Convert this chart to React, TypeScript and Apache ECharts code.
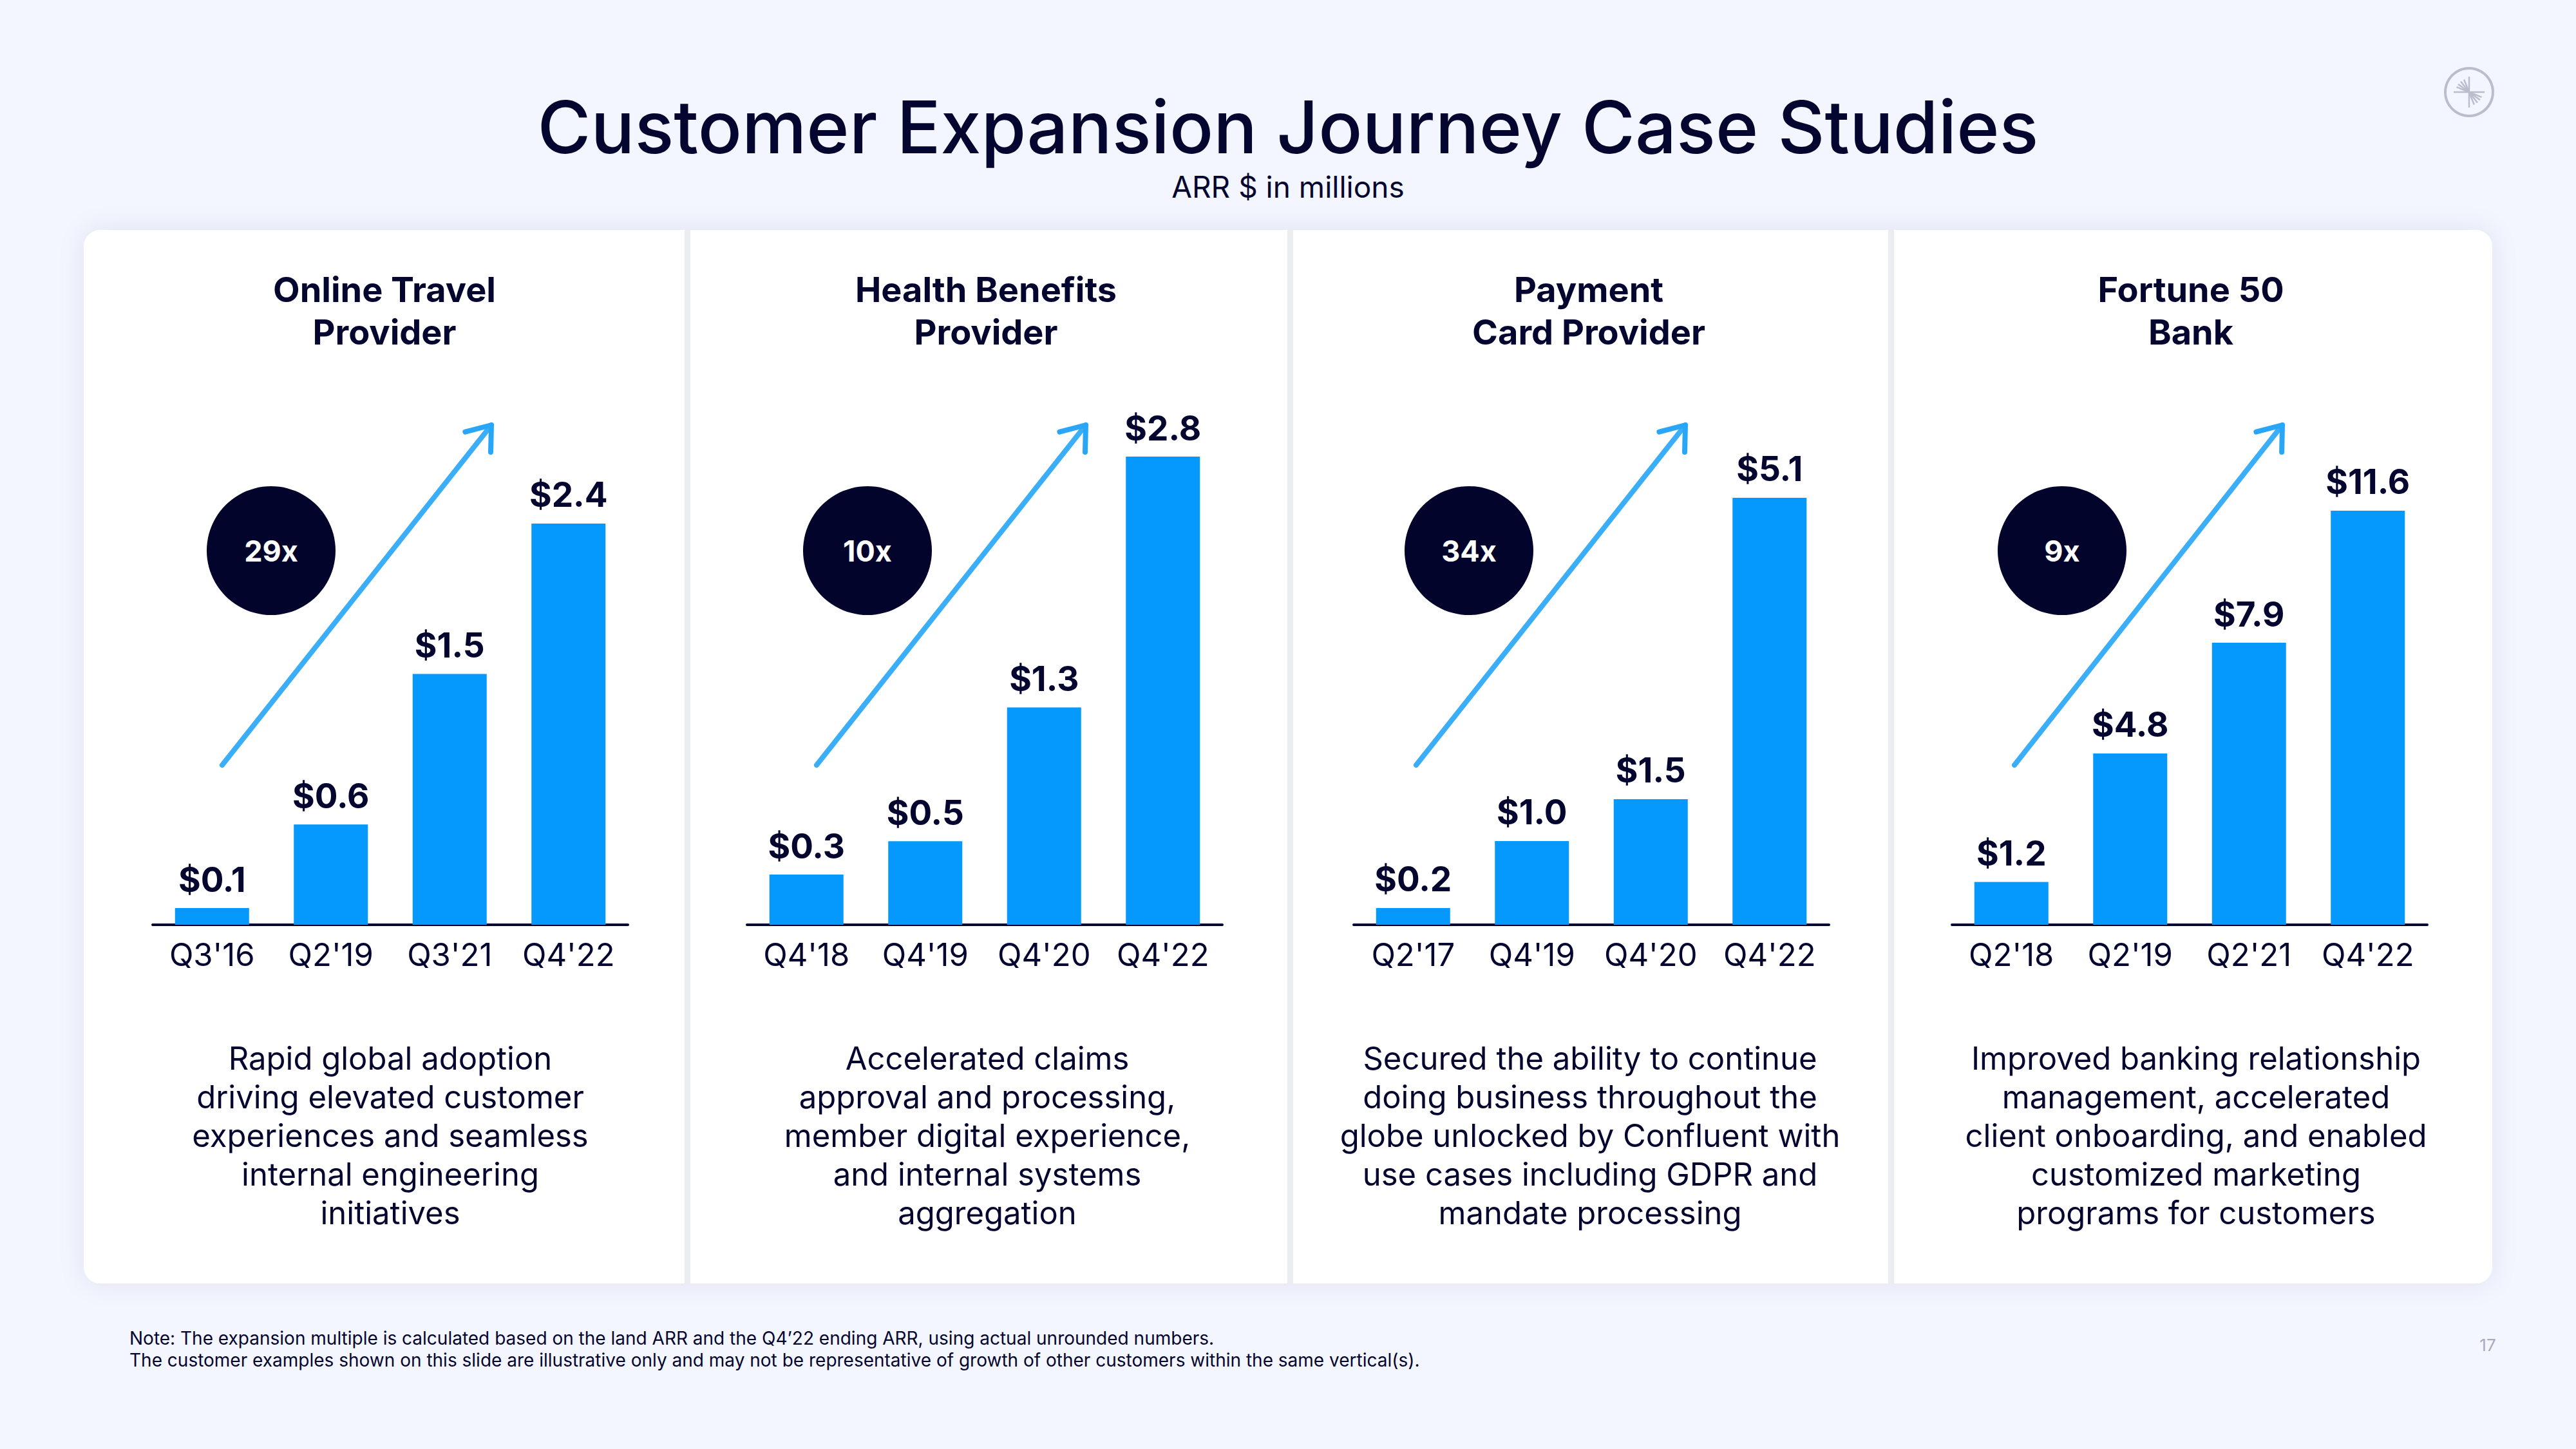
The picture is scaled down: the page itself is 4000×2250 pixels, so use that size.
import React, { useEffect, useRef } from 'react';
import * as echarts from 'echarts';

const W = 4000;
const H = 2250;
const FONT = 'Inter, "Open Sans", "Noto Sans", sans-serif';
const NAVY = '#050630';
const BAR = '#0599FD';
const ARROW = '#3AAEF9';

const MAIN_TITLE = 'Customer Expansion Journey Case Studies';
const SUBTITLE = 'ARR $ in millions';

const PANEL_TITLES = ['Online Travel\nProvider', 'Health Benefits\nProvider', 'Payment\nCard Provider', 'Fortune 50\nBank'];
const MULTIPLES = ['29x', '10x', '34x', '9x'];

const QUARTERS_1 = ["Q3'16", "Q2'19", "Q3'21", "Q4'22"];
const QUARTERS_2 = ["Q4'18", "Q4'19", "Q4'20", "Q4'22"];
const QUARTERS_3 = ["Q2'17", "Q4'19", "Q4'20", "Q4'22"];
const QUARTERS_4 = ["Q2'18", "Q2'19", "Q2'21", "Q4'22"];

const ARR_1 = [0.1, 0.6, 1.5, 2.4];
const ARR_2 = [0.3, 0.5, 1.3, 2.8];
const ARR_3 = [0.2, 1.0, 1.5, 5.1];
const ARR_4 = [1.2, 4.8, 7.9, 11.6];

const DESCRIPTIONS = [
  'Rapid global adoption\ndriving elevated customer\nexperiences and seamless\ninternal engineering\ninitiatives',
  'Accelerated claims\napproval and processing,\nmember digital experience,\nand internal systems\naggregation',
  'Secured the ability to continue\ndoing business throughout the\nglobe unlocked by Confluent with\nuse cases including GDPR and\nmandate processing',
  'Improved banking relationship\nmanagement, accelerated\nclient onboarding, and enabled\ncustomized marketing\nprograms for customers',
];

const FOOTNOTES = [
  'Note: The expansion multiple is calculated based on the land ARR and the Q4\u201922 ending ARR, using actual unrounded numbers.',
  'The customer examples shown on this slide are illustrative only and may not be representative of growth of other customers within the same vertical(s).',
];
const PAGE_NUMBER = '17';

// scale extents per panel (y-axis max)
const Y_MAX = [3.22, 3.22, 6.43, 15.08];

// layout
const AXIS_LEFT = [237, 1160, 2102, 3031];
const AXIS_W = 738;
const GRID_TOP = 600;
const GRID_BOTTOM_Y = 1436;
const CARD_CENTERS = [597, 1531, 2467, 3402];
const DESC_CENTERS = [606, 1533, 2469, 3410];
const CIRCLE_X = [421, 1347, 2281, 3202];
const ARROW_START_DX = [108, 108, 97, 97];
const ARROW_TIP_DX = [526, 526, 515, 513];

const SERIES_DATA = [ARR_1, ARR_2, ARR_3, ARR_4];
const CATEGORIES = [QUARTERS_1, QUARTERS_2, QUARTERS_3, QUARTERS_4];

function arrowElements(i: number) {
  const x0 = AXIS_LEFT[i] + ARROW_START_DX[i];
  const y0 = 1188;
  const x1 = AXIS_LEFT[i] + ARROW_TIP_DX[i];
  const y1 = 660;
  const ang = Math.atan2(y0 - y1, x0 - x1);
  const L = 42;
  const d = (37 * Math.PI) / 180;
  const a1 = [x1 + L * Math.cos(ang + d), y1 + L * Math.sin(ang + d)];
  const a2 = [x1 + L * Math.cos(ang - d), y1 + L * Math.sin(ang - d)];
  return [
    {
      type: 'line',
      shape: { x1: x0, y1: y0, x2: x1, y2: y1 },
      style: { stroke: ARROW, lineWidth: 8, lineCap: 'round' },
    },
    {
      type: 'polyline',
      shape: { points: [a1, [x1, y1], a2] },
      style: { stroke: '#2AA6F9', lineWidth: 8, lineCap: 'round', lineJoin: 'round', fill: null },
    },
  ];
}

function logoElements() {
  const cx = 3834;
  const cy = 143;
  const c = '#BBBDCD';
  const els: any[] = [
    { type: 'circle', shape: { cx, cy, r: 37 }, style: { fill: 'none', stroke: c, lineWidth: 4 } },
    { type: 'line', shape: { x1: cx - 24, y1: cy, x2: cx + 24, y2: cy }, style: { stroke: c, lineWidth: 2.5 } },
    { type: 'line', shape: { x1: cx, y1: cy - 24, x2: cx, y2: cy + 24 }, style: { stroke: c, lineWidth: 2.5 } },
  ];
  [112, 128, 144, 158].forEach((deg) => {
    const r = (deg * Math.PI) / 180;
    const dx = Math.cos(r) * 21;
    const dy = -Math.sin(r) * 21;
    els.push({ type: 'line', shape: { x1: cx, y1: cy, x2: cx + dx, y2: cy + dy }, style: { stroke: c, lineWidth: 2.5 } });
    els.push({ type: 'line', shape: { x1: cx, y1: cy, x2: cx - dx, y2: cy - dy }, style: { stroke: c, lineWidth: 2.5 } });
  });
  return els;
}

function buildOption() {
  const graphic: any[] = [
    {
      type: 'rect',
      shape: { x: 130, y: 357, width: 3740, height: 1636, r: 26 },
      style: { fill: '#FFFFFF', shadowBlur: 40, shadowColor: 'rgba(30,40,110,0.08)' },
      z: -10,
    },
    ...[1063, 1999, 2932].map((x) => ({
      type: 'rect',
      shape: { x, y: 357, width: 9, height: 1636 },
      style: { fill: '#ECEDF0' },
      z: -9,
    })),
    {
      type: 'text',
      x: 2000,
      y: 197,
      style: { text: MAIN_TITLE, textAlign: 'center', textVerticalAlign: 'middle', fontSize: 113, fontWeight: 500, fontFamily: FONT, fill: NAVY },
    },
    {
      type: 'text',
      x: 2000,
      y: 290,
      style: { text: SUBTITLE, textAlign: 'center', textVerticalAlign: 'middle', fontSize: 46, fontFamily: FONT, fill: NAVY },
    },
    ...logoElements(),
    ...FOOTNOTES.map((t, k) => ({
      type: 'text',
      x: 201,
      y: 2078 + k * 34,
      style: { text: t, textAlign: 'left', textVerticalAlign: 'middle', fontSize: 28, fontFamily: FONT, fill: NAVY },
    })),
    {
      type: 'text',
      x: 3863,
      y: 2088,
      style: { text: PAGE_NUMBER, textAlign: 'center', textVerticalAlign: 'middle', fontSize: 26, fontFamily: FONT, fill: '#A9ABBD' },
    },
  ];

  for (let i = 0; i < 4; i++) {
    graphic.push({
      type: 'text',
      x: CARD_CENTERS[i],
      y: 449 - 33,
      style: {
        text: PANEL_TITLES[i],
        textAlign: 'center',
        textVerticalAlign: 'top',
        fontSize: 54,
        lineHeight: 66,
        fontWeight: 'bold',
        fontFamily: FONT,
        fill: NAVY,
      },
    });
    graphic.push({
      type: 'circle',
      shape: { cx: CIRCLE_X[i], cy: 855, r: 100 },
      style: { fill: '#03042C' },
    });
    graphic.push({
      type: 'text',
      x: CIRCLE_X[i],
      y: 855,
      style: { text: MULTIPLES[i], textAlign: 'center', textVerticalAlign: 'middle', fontSize: 45, fontWeight: 'bold', fontFamily: FONT, fill: '#FFFFFF' },
    });
    graphic.push(...arrowElements(i));
    graphic.push({
      type: 'text',
      x: DESC_CENTERS[i],
      y: 1643 - 30,
      style: {
        text: DESCRIPTIONS[i],
        textAlign: 'center',
        textVerticalAlign: 'top',
        fontSize: 49,
        lineHeight: 60,
        fontFamily: FONT,
        fill: NAVY,
      },
    });
  }

  const grids = AXIS_LEFT.map((left) => ({
    left,
    top: GRID_TOP,
    width: AXIS_W,
    height: GRID_BOTTOM_Y - GRID_TOP,
    containLabel: false,
    outerBoundsMode: 'none',
  }));

  const xAxes = CATEGORIES.map((cats, i) => ({
    type: 'category',
    gridIndex: i,
    data: cats,
    axisTick: { show: false },
    axisLine: { show: true, lineStyle: { color: NAVY, width: 4 } },
    axisLabel: { fontSize: 49, color: NAVY, fontFamily: FONT, margin: 22, interval: 0, hideOverlap: false },
    splitLine: { show: false },
  }));

  const yAxes = Y_MAX.map((max, i) => ({
    type: 'value',
    gridIndex: i,
    min: 0,
    max,
    show: false,
    splitLine: { show: false },
  }));

  const series = SERIES_DATA.map((data, i) => ({
    type: 'bar',
    xAxisIndex: i,
    yAxisIndex: i,
    data,
    barWidth: 115,
    itemStyle: { color: BAR },
    label: {
      show: true,
      position: 'top',
      distance: 18,
      formatter: (p: any) => '$' + Number(p.value).toFixed(1),
      fontSize: 53,
      fontWeight: 'bold',
      fontFamily: FONT,
      color: NAVY,
    },
  }));

  return {
    animation: false,
    backgroundColor: '#F3F6FE',
    grid: grids,
    xAxis: xAxes,
    yAxis: yAxes,
    series,
    graphic: { elements: graphic },
  };
}

export default function App() {
  const ref = useRef<HTMLDivElement>(null);
  useEffect(() => {
    if (!ref.current) return;
    const chart = echarts.init(ref.current, null, { renderer: 'svg', width: W, height: H });
    chart.setOption(buildOption() as any);
    return () => {
      chart.dispose();
    };
  }, []);
  return <div ref={ref} style={{ position: 'absolute', left: 0, top: 0, width: W, height: H }} />;
}
